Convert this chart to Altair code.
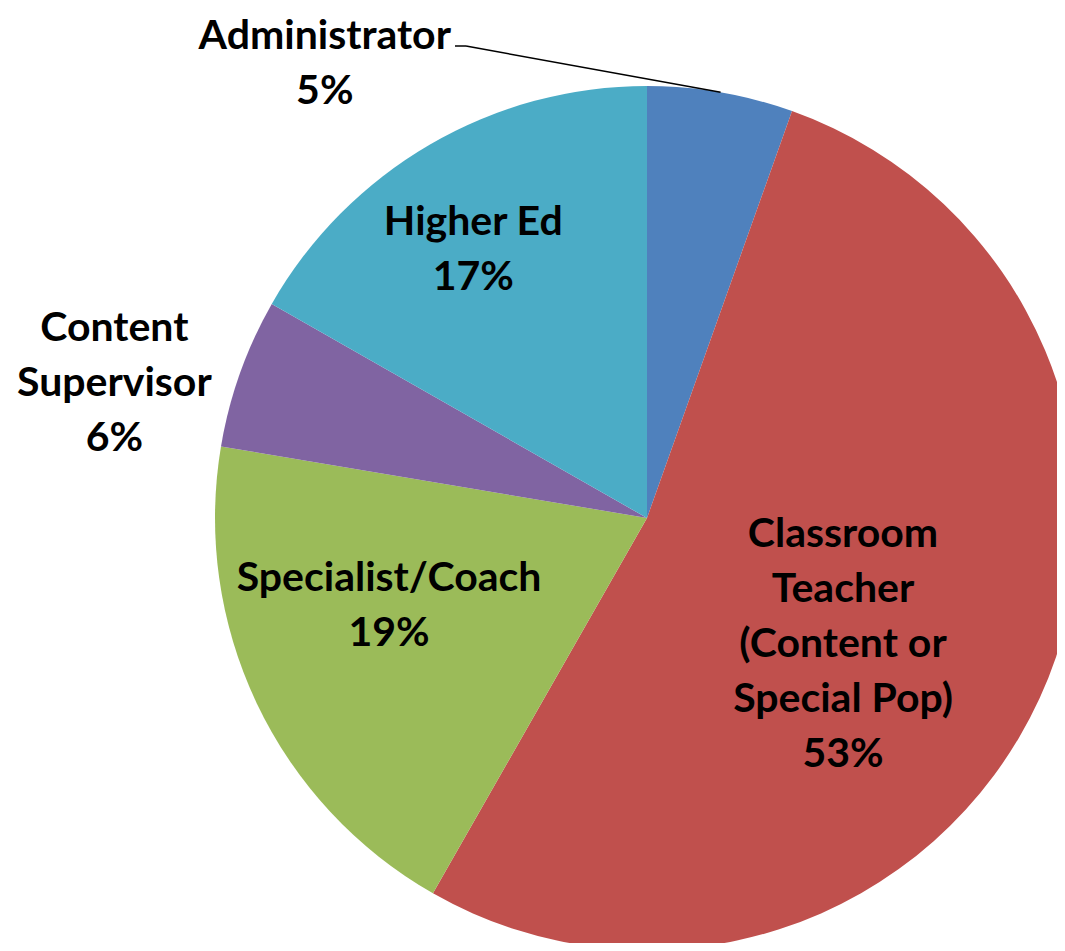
import altair as alt
import pandas as pd

# ---- data ----
categories = ["Administrator", "Classroom Teacher", "Specialist/Coach",
              "Content Supervisor", "Higher Ed"]
label_names = ["Administrator", "Classroom\nTeacher\n(Content or\nSpecial Pop)",
               "Specialist/Coach", "Content\nSupervisor", "Higher Ed"]
values = [5.45, 52.8, 19.4, 5.6, 16.75]
pct_labels = ["5%", "53%", "19%", "6%", "17%"]
colors = ["#4F81BD", "#C0504D", "#9BBB59", "#8064A2", "#4BACC6"]

df = pd.DataFrame({
    "idx": list(range(len(categories))),
    "category": categories,
    "value": values,
    "label": [f"{n}\n{p}" for n, p in zip(label_names, pct_labels)],
})

# ---- layout ----
W, H = 1049, 935
CX, CY, R = 639, 510, 432
FONT = "Lato"
FSIZE = 41
LH = 55

# per-label placement (radius along slice mid-angle, then nudge of block centre)
label_layout = {
    "Administrator": (480, -404, 19),
    "Classroom Teacher": (230, -13, 31),
    "Specialist/Coach": (270, -14, -27),
    "Content Supervisor": (540, -24, 47),
    "Higher Ed": (320, -13, 9),
}

base = alt.Chart(df).encode(
    theta=alt.Theta("value:Q", stack=True),
    order=alt.Order("idx:Q", sort="ascending"),
    x=alt.value(CX),
    y=alt.value(CY),
)

pie = base.mark_arc(outerRadius=R, stroke=None).encode(
    color=alt.Color("category:N",
                    scale=alt.Scale(domain=categories, range=colors),
                    legend=None)
)

layers = [pie]
for cat, lab in zip(categories, df["label"]):
    r, dx, dy = label_layout[cat]
    nlines = lab.count("\n") + 1
    t = base.transform_calculate(
        lab=f"datum.category === '{cat}' ? datum.label : ''"
    ).mark_text(
        radius=r, dx=dx, dy=dy - (nlines - 1) * LH / 2, font=FONT,
        fontSize=FSIZE, fontWeight="bold",
        color="black", lineBreak="\n", lineHeight=LH, align="center",
        baseline="middle",
    ).encode(text="lab:N", detail="category:N")
    layers.append(t)

# leader line for the Administrator label
leader = alt.Chart(df).transform_joinaggregate(
    total="sum(value)"
).transform_window(
    cum="sum(value)", sort=[alt.SortField("idx")], frame=[None, 0]
).transform_calculate(
    mid="(datum.cum - datum.value/2) / datum.total * 2 * PI",
    lx=f"{CX} + {R} * sin(datum.mid)",
    ly=f"{CY} - {R} * cos(datum.mid)",
).transform_filter(
    "datum.category === 'Administrator'"
).mark_rule(color="black", strokeWidth=1.5).encode(
    x=alt.X("lx:Q", scale=None, axis=None),
    y=alt.Y("ly:Q", scale=None, axis=None),
    x2=alt.value(458),
    y2=alt.value(38),
)
stub = alt.Chart(df).transform_filter(
    "datum.category === 'Administrator'"
).mark_rule(color="black", strokeWidth=1.5).encode(
    x=alt.value(447), x2=alt.value(458), y=alt.value(38)
)
layers += [leader, stub]

chart = alt.layer(*layers).properties(
    width=W, height=H,
    autosize=alt.AutoSizeParams(type="none"),
    padding=0,
).configure_view(stroke=None)

chart.save("out.html", embed_options={"renderer": "svg", "actions": False})
